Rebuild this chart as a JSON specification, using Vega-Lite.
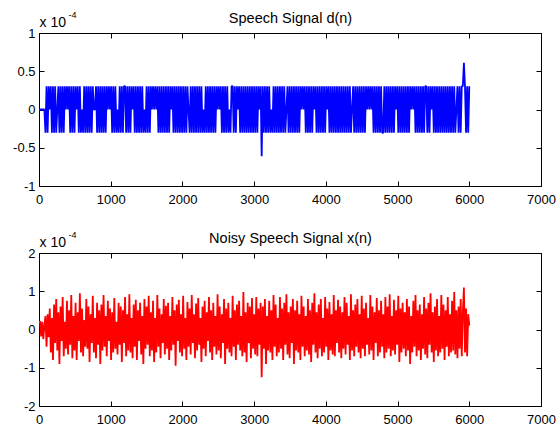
{
  "$schema": "https://vega.github.io/schema/vega-lite/v6.json",
  "background": "white",
  "padding": {"left": 12, "top": 10, "right": 0, "bottom": 0},
  "datasets": {
    "sig": [
      {"n":0,"d":0,"x":0.15},{"n":15,"d":0,"x":0.22},{"n":30,"d":0,"x":-0.18},{"n":45,"d":0,"x":0.2},{"n":60,"d":0,"x":-0.25},
      {"n":75,"d":0,"x":0.1},{"n":90,"d":-0.305,"x":0.35},{"n":105,"d":0.305,"x":-0.45},{"n":120,"d":-0.305,"x":0.4},{"n":135,"d":0.305,"x":-0.2},
      {"n":150,"d":0,"x":0.55},{"n":165,"d":0.305,"x":-0.6},{"n":180,"d":-0.305,"x":0.3},{"n":195,"d":0.305,"x":-0.8},{"n":210,"d":-0.305,"x":0.65},
      {"n":225,"d":0.305,"x":-0.35},{"n":240,"d":-0.305,"x":0.8},{"n":255,"d":0,"x":-0.55},{"n":270,"d":0.305,"x":0.45},{"n":285,"d":-0.305,"x":-0.9},
      {"n":300,"d":0.305,"x":0.6},{"n":315,"d":-0.305,"x":-0.3},{"n":330,"d":0.305,"x":0.85},{"n":345,"d":-0.305,"x":-0.7},{"n":360,"d":0.305,"x":0.2},
      {"n":375,"d":0,"x":-0.5},{"n":390,"d":0.305,"x":0.75},{"n":405,"d":0,"x":-0.65},{"n":420,"d":0.305,"x":0.5},{"n":435,"d":-0.305,"x":-0.4},
      {"n":450,"d":0.305,"x":0.9},{"n":465,"d":-0.305,"x":-0.75},{"n":480,"d":0.305,"x":0.35},{"n":495,"d":-0.305,"x":-0.55},{"n":510,"d":0.305,"x":0.7},
      {"n":525,"d":0,"x":-0.8},{"n":540,"d":0.305,"x":0.45},{"n":555,"d":-0.305,"x":-0.3},{"n":570,"d":0.305,"x":0.95},{"n":585,"d":-0.305,"x":-0.6},
      {"n":600,"d":0,"x":0.55},{"n":615,"d":-0.305,"x":-0.7},{"n":630,"d":0.305,"x":0.25},{"n":645,"d":-0.305,"x":-0.45},{"n":660,"d":0.305,"x":0.8},
      {"n":675,"d":-0.305,"x":-0.5},{"n":690,"d":0.305,"x":0.6},{"n":705,"d":-0.305,"x":-0.85},{"n":720,"d":0.305,"x":0.4},{"n":735,"d":-0.305,"x":-0.35},
      {"n":750,"d":0.305,"x":0.88},{"n":765,"d":0,"x":-0.6},{"n":780,"d":0,"x":0.3},{"n":795,"d":0.305,"x":-0.75},{"n":810,"d":-0.305,"x":0.7},
      {"n":825,"d":0.305,"x":-0.4},{"n":840,"d":-0.305,"x":0.5},{"n":855,"d":0.305,"x":-0.9},{"n":870,"d":-0.305,"x":0.65},{"n":885,"d":0.305,"x":-0.55},
      {"n":900,"d":-0.305,"x":0.9},{"n":915,"d":0.305,"x":-0.45},{"n":930,"d":-0.305,"x":0.35},{"n":945,"d":0.305,"x":-0.7},{"n":960,"d":0,"x":0.75},
      {"n":975,"d":0.305,"x":-0.3},{"n":990,"d":0,"x":0.55},{"n":1005,"d":0.305,"x":-0.8},{"n":1020,"d":-0.305,"x":0.45},{"n":1035,"d":0.305,"x":-0.6},
      {"n":1050,"d":-0.305,"x":0.82},{"n":1065,"d":0.305,"x":-0.5},{"n":1080,"d":-0.305,"x":0.2},{"n":1095,"d":0,"x":-0.65},{"n":1110,"d":-0.305,"x":0.7},
      {"n":1125,"d":0.305,"x":-0.4},{"n":1140,"d":-0.305,"x":0.6},{"n":1155,"d":0.305,"x":-0.85},{"n":1170,"d":-0.305,"x":0.5},{"n":1185,"d":0.305,"x":-0.35},
      {"n":1200,"d":0.305,"x":0.85},{"n":1215,"d":-0.305,"x":-0.7},{"n":1230,"d":0.305,"x":0.4},{"n":1245,"d":-0.305,"x":-0.55},{"n":1260,"d":0.305,"x":0.92},
      {"n":1275,"d":-0.305,"x":-0.6},{"n":1290,"d":0.305,"x":0.3},{"n":1305,"d":0,"x":-0.75},{"n":1320,"d":0.305,"x":0.65},{"n":1335,"d":-0.305,"x":-0.45},
      {"n":1350,"d":0.305,"x":0.78},{"n":1365,"d":-0.305,"x":-0.8},{"n":1380,"d":0.305,"x":0.5},{"n":1395,"d":-0.305,"x":-0.3},{"n":1410,"d":0.305,"x":0.7},
      {"n":1425,"d":-0.305,"x":-0.65},{"n":1440,"d":0.305,"x":0.35},{"n":1455,"d":-0.305,"x":-0.9},{"n":1470,"d":0,"x":0.8},{"n":1485,"d":-0.305,"x":-0.5},
      {"n":1500,"d":0.305,"x":0.6},{"n":1515,"d":-0.305,"x":-0.4},{"n":1530,"d":0.305,"x":0.88},{"n":1545,"d":-0.305,"x":-0.7},{"n":1560,"d":0.305,"x":0.45},
      {"n":1575,"d":0,"x":-0.55},{"n":1590,"d":0.305,"x":0.75},{"n":1605,"d":0,"x":-0.85},{"n":1620,"d":0.305,"x":0.3},{"n":1635,"d":0,"x":-0.6},
      {"n":1650,"d":0.305,"x":0.9},{"n":1665,"d":-0.305,"x":-0.45},{"n":1680,"d":0.305,"x":0.55},{"n":1695,"d":-0.305,"x":-0.75},{"n":1710,"d":0.305,"x":0.4},
      {"n":1725,"d":-0.305,"x":-0.35},{"n":1740,"d":0.305,"x":0.8},{"n":1755,"d":-0.305,"x":-0.65},{"n":1770,"d":0.305,"x":0.62},{"n":1785,"d":-0.305,"x":-0.5},
      {"n":1800,"d":0.305,"x":0.7},{"n":1815,"d":-0.305,"x":-0.8},{"n":1830,"d":0.305,"x":0.35},{"n":1845,"d":0,"x":-0.55},{"n":1860,"d":0.305,"x":0.85},
      {"n":1875,"d":-0.305,"x":-0.4},{"n":1890,"d":0.305,"x":0.5},{"n":1905,"d":-0.305,"x":-0.95},{"n":1920,"d":0.305,"x":0.65},{"n":1935,"d":-0.305,"x":-0.3},
      {"n":1950,"d":0.305,"x":0.78},{"n":1965,"d":-0.305,"x":-0.6},{"n":1980,"d":0.305,"x":0.4},{"n":1995,"d":-0.305,"x":-0.7},{"n":2010,"d":0.305,"x":0.88},
      {"n":2025,"d":-0.305,"x":-0.5},{"n":2040,"d":0.305,"x":0.3},{"n":2055,"d":-0.305,"x":-0.8},{"n":2070,"d":0.305,"x":0.72},{"n":2085,"d":0,"x":-0.45},
      {"n":2100,"d":-0.305,"x":0.55},{"n":2115,"d":0.305,"x":-0.65},{"n":2130,"d":-0.305,"x":0.9},{"n":2145,"d":0.305,"x":-0.35},{"n":2160,"d":-0.305,"x":0.4},
      {"n":2175,"d":0.305,"x":-0.75},{"n":2190,"d":-0.305,"x":0.68},{"n":2205,"d":0.305,"x":-0.55},{"n":2220,"d":-0.305,"x":0.82},{"n":2235,"d":0.305,"x":-0.4},
      {"n":2250,"d":-0.305,"x":0.3},{"n":2265,"d":0.305,"x":-0.85},{"n":2280,"d":-0.305,"x":0.6},{"n":2295,"d":0,"x":-0.5},{"n":2310,"d":-0.305,"x":0.75},
      {"n":2325,"d":0.305,"x":-0.7},{"n":2340,"d":-0.305,"x":0.45},{"n":2355,"d":0.305,"x":-0.3},{"n":2370,"d":-0.305,"x":0.85},{"n":2385,"d":0.305,"x":-0.6},
      {"n":2400,"d":-0.305,"x":0.5},{"n":2415,"d":0.305,"x":-0.8},{"n":2430,"d":-0.305,"x":0.7},{"n":2445,"d":0.305,"x":-0.45},{"n":2460,"d":-0.305,"x":0.35},
      {"n":2475,"d":0.305,"x":-0.65},{"n":2490,"d":0,"x":0.92},{"n":2505,"d":0.305,"x":-0.55},{"n":2520,"d":0,"x":0.6},{"n":2535,"d":0.305,"x":-0.75},
      {"n":2550,"d":-0.305,"x":0.4},{"n":2565,"d":0.305,"x":-0.35},{"n":2580,"d":-0.305,"x":0.8},{"n":2595,"d":0.305,"x":-0.9},{"n":2610,"d":-0.305,"x":0.55},
      {"n":2625,"d":0.305,"x":-0.5},{"n":2640,"d":-0.305,"x":0.7},{"n":2655,"d":0,"x":-0.6},{"n":2670,"d":-0.305,"x":0.3},{"n":2685,"d":0.305,"x":-0.7},
      {"n":2700,"d":0.305,"x":0.88},{"n":2715,"d":-0.305,"x":-0.45},{"n":2730,"d":0.305,"x":0.5},{"n":2745,"d":-0.305,"x":-0.8},{"n":2760,"d":0.305,"x":0.65},
      {"n":2775,"d":0,"x":-0.4},{"n":2790,"d":0.305,"x":0.75},{"n":2805,"d":-0.305,"x":-0.55},{"n":2820,"d":0.305,"x":0.35},{"n":2835,"d":-0.305,"x":-0.7},
      {"n":2850,"d":0.305,"x":0.98},{"n":2865,"d":-0.305,"x":-0.6},{"n":2880,"d":0.305,"x":0.45},{"n":2895,"d":-0.305,"x":-0.85},{"n":2910,"d":0.305,"x":0.7},
      {"n":2925,"d":-0.305,"x":-0.35},{"n":2940,"d":0.305,"x":0.6},{"n":2955,"d":-0.305,"x":-0.75},{"n":2970,"d":0.305,"x":0.82},{"n":2985,"d":-0.305,"x":-0.5},
      {"n":3000,"d":0.305,"x":0.4},{"n":3015,"d":-0.305,"x":-0.65},{"n":3030,"d":0.305,"x":0.85},{"n":3045,"d":-0.305,"x":-0.7},{"n":3060,"d":0.305,"x":0.55},
      {"n":3075,"d":0,"x":-0.4},{"n":3090,"d":0.305,"x":0.7},{"n":3105,"d":-0.61,"x":-1.25},{"n":3120,"d":0.305,"x":0.6},{"n":3135,"d":-0.305,"x":-0.5},
      {"n":3150,"d":0.305,"x":0.8},{"n":3165,"d":-0.305,"x":-0.9},{"n":3180,"d":0.305,"x":0.35},{"n":3195,"d":-0.305,"x":-0.55},{"n":3210,"d":0.305,"x":0.75},
      {"n":3225,"d":-0.305,"x":-0.6},{"n":3240,"d":0,"x":0.5},{"n":3255,"d":-0.305,"x":-0.8},{"n":3270,"d":0.305,"x":0.9},{"n":3285,"d":-0.305,"x":-0.45},
      {"n":3300,"d":0.305,"x":0.65},{"n":3315,"d":-0.305,"x":-0.7},{"n":3330,"d":0.305,"x":0.3},{"n":3345,"d":-0.305,"x":-0.6},{"n":3360,"d":0.305,"x":0.85},
      {"n":3375,"d":-0.305,"x":-0.5},{"n":3390,"d":0.305,"x":0.55},{"n":3405,"d":-0.305,"x":-0.8},{"n":3420,"d":0.305,"x":0.7},{"n":3435,"d":-0.305,"x":-0.4},
      {"n":3450,"d":0,"x":0.92},{"n":3465,"d":0.305,"x":-0.65},{"n":3480,"d":-0.305,"x":0.45},{"n":3495,"d":0.305,"x":-0.75},{"n":3510,"d":-0.305,"x":0.6},
      {"n":3525,"d":0.305,"x":-0.35},{"n":3540,"d":-0.305,"x":0.8},{"n":3555,"d":0.305,"x":-0.9},{"n":3570,"d":-0.305,"x":0.5},{"n":3585,"d":0.305,"x":-0.55},
      {"n":3600,"d":-0.305,"x":0.75},{"n":3615,"d":0.305,"x":-0.6},{"n":3630,"d":-0.305,"x":0.4},{"n":3645,"d":0.305,"x":-0.8},{"n":3660,"d":0,"x":0.88},
      {"n":3675,"d":0.305,"x":-0.45},{"n":3690,"d":0,"x":0.6},{"n":3705,"d":0.305,"x":-0.7},{"n":3720,"d":-0.305,"x":0.35},{"n":3735,"d":0.305,"x":-0.55},
      {"n":3750,"d":-0.305,"x":0.8},{"n":3765,"d":0.305,"x":-0.65},{"n":3780,"d":-0.305,"x":0.5},{"n":3795,"d":0.305,"x":-0.85},{"n":3810,"d":-0.305,"x":0.7},
      {"n":3825,"d":0.305,"x":-0.4},{"n":3840,"d":0,"x":0.95},{"n":3855,"d":0.305,"x":-0.6},{"n":3870,"d":-0.305,"x":0.45},{"n":3885,"d":0.305,"x":-0.75},
      {"n":3900,"d":-0.305,"x":0.65},{"n":3915,"d":0.305,"x":-0.5},{"n":3930,"d":-0.305,"x":0.8},{"n":3945,"d":0.305,"x":-0.7},{"n":3960,"d":-0.305,"x":0.3},
      {"n":3975,"d":0.305,"x":-0.6},{"n":3990,"d":-0.305,"x":0.85},{"n":4005,"d":0.305,"x":-0.45},{"n":4020,"d":0,"x":0.55},{"n":4035,"d":0.305,"x":-0.8},
      {"n":4050,"d":-0.305,"x":0.72},{"n":4065,"d":0.305,"x":-0.55},{"n":4080,"d":-0.305,"x":0.4},{"n":4095,"d":0.305,"x":-0.65},{"n":4110,"d":-0.305,"x":0.9},
      {"n":4125,"d":0.305,"x":-0.7},{"n":4140,"d":-0.305,"x":0.5},{"n":4155,"d":0.305,"x":-0.35},{"n":4170,"d":-0.305,"x":0.78},{"n":4185,"d":0.305,"x":-0.6},
      {"n":4200,"d":-0.305,"x":0.6},{"n":4215,"d":0.305,"x":-0.75},{"n":4230,"d":-0.305,"x":0.45},{"n":4245,"d":0.305,"x":-0.5},{"n":4260,"d":-0.305,"x":0.85},
      {"n":4275,"d":0.305,"x":-0.65},{"n":4290,"d":-0.305,"x":0.7},{"n":4305,"d":0.305,"x":-0.4},{"n":4320,"d":-0.305,"x":0.35},{"n":4335,"d":0.305,"x":-0.8},
      {"n":4350,"d":-0.305,"x":0.92},{"n":4365,"d":0,"x":-0.55},{"n":4380,"d":0.305,"x":0.5},{"n":4395,"d":-0.305,"x":-0.7},{"n":4410,"d":0.305,"x":0.65},
      {"n":4425,"d":-0.305,"x":-0.45},{"n":4440,"d":0.305,"x":0.8},{"n":4455,"d":-0.305,"x":-0.6},{"n":4470,"d":0.305,"x":0.4},{"n":4485,"d":-0.305,"x":-0.75},
      {"n":4500,"d":0.305,"x":0.88},{"n":4515,"d":-0.305,"x":-0.5},{"n":4530,"d":0.305,"x":0.55},{"n":4545,"d":-0.305,"x":-0.7},{"n":4560,"d":0.305,"x":0.7},
      {"n":4575,"d":0,"x":-0.4},{"n":4590,"d":0.305,"x":0.3},{"n":4605,"d":0,"x":-0.65},{"n":4620,"d":0.305,"x":0.9},{"n":4635,"d":0,"x":-0.55},
      {"n":4650,"d":0.305,"x":0.6},{"n":4665,"d":-0.305,"x":-0.8},{"n":4680,"d":0.305,"x":0.45},{"n":4695,"d":-0.305,"x":-0.35},{"n":4710,"d":0.305,"x":0.82},
      {"n":4725,"d":-0.305,"x":-0.7},{"n":4740,"d":0.305,"x":0.5},{"n":4755,"d":-0.305,"x":-0.6},{"n":4770,"d":0.305,"x":0.75},{"n":4785,"d":-0.305,"x":-0.45},
      {"n":4800,"d":-0.305,"x":0.4},{"n":4815,"d":0.305,"x":-0.75},{"n":4830,"d":-0.305,"x":0.85},{"n":4845,"d":0.305,"x":-0.6},{"n":4860,"d":-0.305,"x":0.6},
      {"n":4875,"d":0.305,"x":-0.5},{"n":4890,"d":-0.305,"x":0.92},{"n":4905,"d":0.305,"x":-0.7},{"n":4920,"d":-0.305,"x":0.35},{"n":4935,"d":0.305,"x":-0.55},
      {"n":4950,"d":-0.305,"x":0.78},{"n":4965,"d":0.305,"x":-0.65},{"n":4980,"d":0,"x":0.5},{"n":4995,"d":0.305,"x":-0.4},{"n":5010,"d":-0.305,"x":0.88},
      {"n":5025,"d":0.305,"x":-0.85},{"n":5040,"d":-0.305,"x":0.55},{"n":5055,"d":0.305,"x":-0.6},{"n":5070,"d":-0.305,"x":0.7},{"n":5085,"d":0.305,"x":-0.5},
      {"n":5100,"d":-0.305,"x":0.45},{"n":5115,"d":0.305,"x":-0.7},{"n":5130,"d":-0.305,"x":0.8},{"n":5145,"d":0.305,"x":-0.55},{"n":5160,"d":-0.305,"x":0.6},
      {"n":5175,"d":0.305,"x":-0.9},{"n":5190,"d":0,"x":0.35},{"n":5205,"d":0.305,"x":-0.6},{"n":5220,"d":0,"x":0.75},{"n":5235,"d":0.305,"x":-0.45},
      {"n":5250,"d":-0.305,"x":0.9},{"n":5265,"d":0.305,"x":-0.7},{"n":5280,"d":-0.305,"x":0.5},{"n":5295,"d":0.305,"x":-0.55},{"n":5310,"d":-0.305,"x":0.65},
      {"n":5325,"d":0.305,"x":-0.8},{"n":5340,"d":-0.305,"x":0.4},{"n":5355,"d":0.305,"x":-0.5},{"n":5370,"d":-0.305,"x":0.85},{"n":5385,"d":0.305,"x":-0.65},
      {"n":5400,"d":0.305,"x":0.55},{"n":5415,"d":-0.305,"x":-0.75},{"n":5430,"d":0.305,"x":0.7},{"n":5445,"d":-0.305,"x":-0.4},{"n":5460,"d":0.305,"x":0.95},
      {"n":5475,"d":0,"x":-0.6},{"n":5490,"d":0.305,"x":0.45},{"n":5505,"d":-0.305,"x":-0.85},{"n":5520,"d":0.305,"x":0.6},{"n":5535,"d":-0.305,"x":-0.55},
      {"n":5550,"d":0.305,"x":0.8},{"n":5565,"d":-0.305,"x":-0.7},{"n":5580,"d":0.305,"x":0.35},{"n":5595,"d":-0.305,"x":-0.6},{"n":5610,"d":0.305,"x":0.9},
      {"n":5625,"d":-0.305,"x":-0.5},{"n":5640,"d":0.305,"x":0.65},{"n":5655,"d":-0.305,"x":-0.8},{"n":5670,"d":0.305,"x":0.5},{"n":5685,"d":-0.305,"x":-0.45},
      {"n":5700,"d":0.305,"x":0.85},{"n":5715,"d":-0.305,"x":-0.7},{"n":5730,"d":0.305,"x":0.4},{"n":5745,"d":-0.305,"x":-0.6},{"n":5760,"d":0.305,"x":0.75},
      {"n":5775,"d":-0.305,"x":-0.55},{"n":5790,"d":0.305,"x":0.98},{"n":5805,"d":-0.305,"x":-0.65},{"n":5820,"d":0,"x":0.5},{"n":5835,"d":0.305,"x":-0.75},
      {"n":5850,"d":-0.305,"x":0.6},{"n":5865,"d":0.305,"x":-0.5},{"n":5880,"d":-0.305,"x":0.8},{"n":5895,"d":0.305,"x":-0.7},{"n":5910,"d":0.305,"x":0.45},
      {"n":5925,"d":0.61,"x":1.1},{"n":5940,"d":0.305,"x":-0.6},{"n":5955,"d":-0.305,"x":0.55},{"n":5970,"d":0.305,"x":-0.7},{"n":5985,"d":-0.305,"x":0.4},
      {"n":6000,"d":0.305,"x":0.1}
    ]
  },
  "data": {"name": "sig"},
  "vconcat": [
    {
      "width": 502,
      "height": 153,
      "layer": [
        {
          "mark": {"type": "line", "color": "#0000ff", "strokeWidth": 1.8, "strokeJoin": "bevel", "clip": true},
          "encoding": {
            "x": {"field": "n", "type": "quantitative", "scale": {"domain": [0, 7000], "nice": false, "zero": false},
              "axis": {"orient": "bottom", "values": [0,1000,2000,3000,4000,5000,6000,7000], "labelExpr": "'' + datum.value", "title": null, "labelPadding": 12, "labelBaseline": "top"}},
            "y": {"field": "d", "type": "quantitative", "scale": {"domain": [-1, 1], "nice": false, "zero": false},
              "axis": {"orient": "left", "values": [-1,-0.5,0,0.5,1], "labelExpr": "'' + datum.value", "labelPadding": 9, "labelBaseline": "middle",
                "title": "x 10", "titleAngle": 0, "titleAlign": "left", "titleBaseline": "alphabetic", "titleX": 0, "titleY": -7, "titleFontSize": 14}}
          }
        },
        {
          "mark": {"type": "line", "opacity": 0},
          "encoding": {
            "x": {"field": "n", "type": "quantitative",
              "axis": {"orient": "top", "values": [0,1000,2000,3000,4000,5000,6000,7000], "labels": false,
                "title": "Speech Signal d(n)", "titleAngle": 0, "titleAlign": "center", "titleBaseline": "alphabetic", "titleX": 251, "titleY": -11, "titleFontSize": 14.5}},
            "y": {"field": "d", "type": "quantitative",
              "axis": {"orient": "right", "values": [-1,-0.5,0,0.5,1], "labels": false,
                "title": "-4", "titleAngle": 0, "titleAlign": "left", "titleBaseline": "alphabetic", "titleX": -473, "titleY": -16, "titleFontSize": 9}}
          }
        }
      ],
      "resolve": {"axis": {"x": "independent", "y": "independent"}}
    },
    {
      "width": 502,
      "height": 153,
      "layer": [
        {
          "mark": {"type": "line", "color": "#ff0000", "strokeWidth": 1.8, "strokeJoin": "bevel", "clip": true},
          "encoding": {
            "x": {"field": "n", "type": "quantitative", "scale": {"domain": [0, 7000], "nice": false, "zero": false},
              "axis": {"orient": "bottom", "values": [0,1000,2000,3000,4000,5000,6000,7000], "labelExpr": "'' + datum.value", "title": null, "labelPadding": 12, "labelBaseline": "top"}},
            "y": {"field": "x", "type": "quantitative", "scale": {"domain": [-2, 2], "nice": false, "zero": false},
              "axis": {"orient": "left", "values": [-2,-1,0,1,2], "labelExpr": "'' + datum.value", "labelPadding": 9, "labelBaseline": "middle",
                "title": "x 10", "titleAngle": 0, "titleAlign": "left", "titleBaseline": "alphabetic", "titleX": 0, "titleY": -7, "titleFontSize": 14}}
          }
        },
        {
          "mark": {"type": "line", "opacity": 0},
          "encoding": {
            "x": {"field": "n", "type": "quantitative",
              "axis": {"orient": "top", "values": [0,1000,2000,3000,4000,5000,6000,7000], "labels": false,
                "title": "Noisy Speech Signal x(n)", "titleAngle": 0, "titleAlign": "center", "titleBaseline": "alphabetic", "titleX": 251, "titleY": -11, "titleFontSize": 14.5}},
            "y": {"field": "x", "type": "quantitative",
              "axis": {"orient": "right", "values": [-2,-1,0,1,2], "labels": false,
                "title": "-4", "titleAngle": 0, "titleAlign": "left", "titleBaseline": "alphabetic", "titleX": -473, "titleY": -16, "titleFontSize": 9}}
          }
        }
      ],
      "resolve": {"axis": {"x": "independent", "y": "independent"}}
    }
  ],
  "spacing": 67,
  "bounds": "flush",
  "config": {
    "view": {"stroke": null},
    "font": "Liberation Sans",
    "axis": {
      "domainColor": "black", "domainWidth": 1, "tickColor": "black", "tickWidth": 1, "tickSize": -5,
      "labelColor": "black", "labelFont": "Liberation Sans", "labelFontSize": 13,
      "titleColor": "black", "titleFont": "Liberation Sans", "titleFontWeight": "normal", "titlePadding": 0,
      "grid": false, "labelFlush": false, "labelOverlap": false
    }
  }
}
